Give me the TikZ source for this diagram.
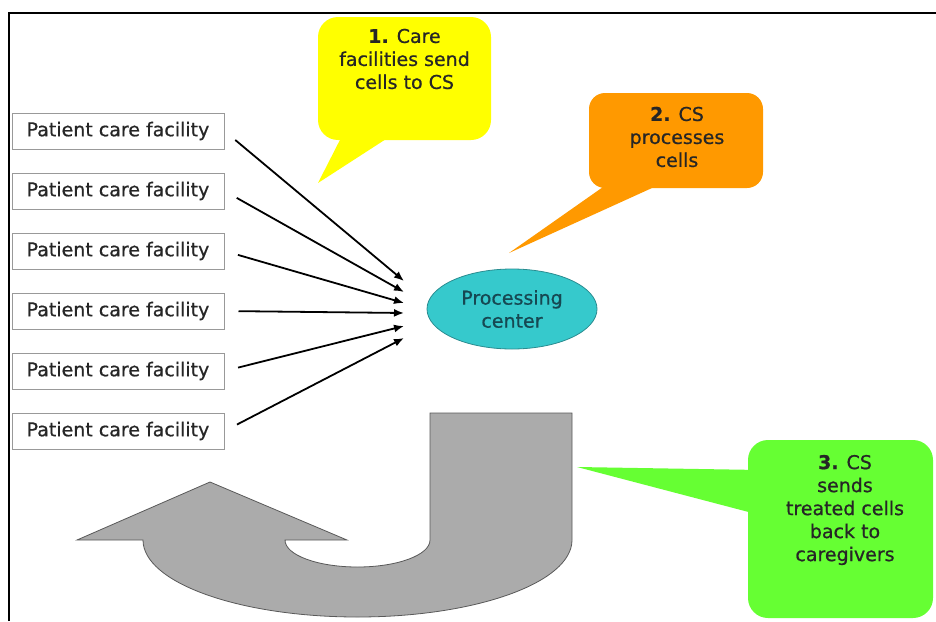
\documentclass[tikz,border=0pt]{standalone}
\usepackage{fontspec}
\setmainfont{DejaVu Sans}[FakeBold=0.7]
\usetikzlibrary{arrows.meta}
\usetikzlibrary{shapes.geometric}
\definecolor{callyellow}{HTML}{FFFF00}
\definecolor{callorange}{HTML}{FF9900}
\definecolor{callgreen}{HTML}{66FF33}
\definecolor{proccyan}{HTML}{36C9CC}
\definecolor{procline}{HTML}{2A8C90}
\definecolor{proctext}{HTML}{164852}
\definecolor{uturn}{HTML}{ABABAB}
\tikzset{
  facility/.style={draw=gray!80,line width=0.5pt,fill=white,minimum width=106pt,minimum height=18pt,inner sep=0pt,text=black!85},
  callbox/.style={rounded corners=10pt,inner sep=0pt},
  calltext/.style={align=center,text=black!85},
  feed/.style={line width=0.9pt,-{Latex[length=5pt,width=4pt]},shorten <=7pt}
}
\begin{document}
\begin{tikzpicture}[x=0.5pt,y=-0.5pt,font=\fontsize{9.5}{11.5}\selectfont]
	\useasboundingbox (0,0) rectangle (936,621);
	\draw[line width=1pt] (9,621) -- (9,12.5) -- (936,12.5);
	
	\fill[callyellow] (345,130) -- (318,183) -- (400,130) -- cycle;
	\node[callbox,fill=callyellow,minimum width=86.5pt,minimum height=61.5pt] (call1) at (404.5,78.5) {};
	\node[calltext] (call1text) at (404.5,59) {\textbf{1.} Care\\facilities send\\cells to CS};
	
	\fill[callorange] (613,180) -- (509,253) -- (663,183) -- cycle;
	\node[callbox,fill=callorange,rounded corners=8pt,minimum width=87pt,minimum height=47.5pt] (call2) at (676,140.5) {};
	\node[calltext] (call2text) at (677,137) {\textbf{2.} CS\\processes\\cells};
	
	\fill[callgreen] (577,467) -- (760,470) -- (760,515) -- cycle;
	\node[callbox,fill=callgreen,minimum width=92.5pt,minimum height=89pt] (call3) at (840.5,529) {};
	\node[calltext] (call3text) at (845,510) {\textbf{3.} CS\\sends\\treated cells\\back to\\caregivers};
	
	\draw[fill=uturn,draw=gray!70!black,line width=0.4pt] (430,413) -- (572,413) -- (572,540)
		.. controls (572,582.5) and (476,617) .. (357.5,617)
		.. controls (239,617) and (143,582.5) .. (143,540)
		-- (77,540) -- (210,482) -- (347,540) -- (285,540)
		.. controls (285,555) and (317.5,567) .. (357.5,567)
		.. controls (397.5,567) and (430,555) .. (430,540) -- cycle;
	
	\node[ellipse,draw=procline,fill=proccyan,minimum width=85pt,minimum height=40pt,inner sep=0pt,text=proctext,align=center] (proc) at (512,309) {Processing\\center};
	
	\foreach \i in {1,...,6}
		\node[facility] (p\i) at (118,71+60*\i) {Patient care facility};
	\foreach \i/\y in {1/281,2/292,3/303,4/313,5/326,6/338} {
		\coordinate (e\i) at (404,\y);
		\draw[feed] (p\i.east) -- (e\i);
	}
\end{tikzpicture}
\end{document}
